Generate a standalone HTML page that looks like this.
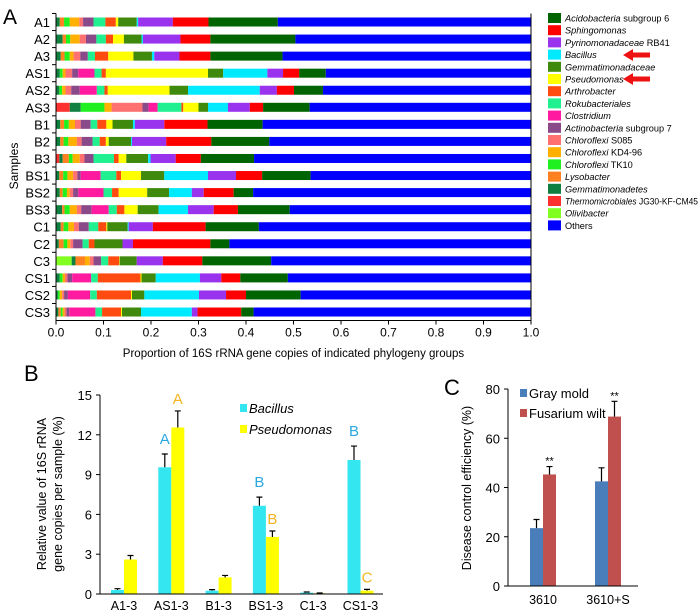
<!DOCTYPE html>
<html><head><meta charset="utf-8"><style>
html,body{margin:0;padding:0;background:#fff;}
svg{display:block;font-family:"Liberation Sans",Arial,sans-serif;}
</style></head><body>
<svg id="fig" width="700" height="614" viewBox="0 0 700 614" xmlns="http://www.w3.org/2000/svg">
<text x="3" y="24" font-size="21">A</text>
<g id="pa"></g>
<g id="pb"></g>
<g id="pc"></g>
</svg>
<script>
// ---------- Panel A data ----------
const samples = ["A1","A2","A3","AS1","AS2","AS3","B1","B2","B3","BS1","BS2","BS3","C1","C2","C3","CS1","CS2","CS3"];
const taxa = ["Olivibacter","Thermomicrobiales JG30-KF-CM45","Gemmatimonadetes","Lysobacter","Chloroflexi TK10","Chloroflexi KD4-96","Chloroflexi S085","Actinobacteria subgroup 7","Clostridium","Rokubacteriales","Arthrobacter","Pseudomonas","Gemmatimonadaceae","Bacillus","Pyrinomonadaceae RB41","Sphingomonas","Acidobacteria subgroup 6"];
const taxaColors = ["#80ff20","#ff3030","#108040","#ff8020","#20f020","#ffb000","#ff7070","#8a4a8a","#ff1aa0","#20f090","#ff4a10","#ffff00","#3f8a0c","#00eaff","#9933ee","#ff0000","#006400"];
const A1=[0,0,.008,.009,.012,.02,.008,.022,0,.025,.022,.005,.039,.003,.073,.075,.146];
const A2=[0,0,.014,.007,.009,.02,.013,.022,0,.02,.015,.023,.037,.003,.079,.063,.179];
const A3=[0,0,.01,.008,.011,.008,.014,.016,0,.015,.028,.053,.039,.005,.053,.065,.152];
const AS1=[0,0,.008,0,.006,.006,.014,.013,.034,.015,.009,.215,.032,.093,.033,.034,.056];
const AS2=[0,0,.007,0,.006,.007,.012,.018,.036,.016,.007,.13,.039,.151,.036,.036,.061];
const AS3=[0,.029,.023,0,.05,.015,.065,.013,.019,.05,.004,.032,.02,.042,.046,.028,.098];
const B1=[0,0,.009,.008,.01,.013,.012,.021,0,.014,.019,.013,.043,.004,.062,.091,.116];
const B2=[0,0,.009,.007,.01,.018,.01,.023,0,.015,.013,.006,.047,.002,.072,.095,.122];
const B3=[0,.007,.007,.013,.008,.015,.01,.019,0,.043,.01,.016,.046,.005,.053,.053,.112];
const BS1=[0,0,.007,.008,.009,.012,.009,.007,.042,.033,.01,.042,.049,.092,.059,.055,.102];
const BS2=[0,0,.008,.006,.009,.006,.007,.011,.053,.018,.014,.06,.046,.048,.025,.063,.041];
const BS3=[0,0,.013,.005,.011,.015,.009,.022,.036,.017,.016,.028,.044,.062,.054,.051,.109];
const C1=[0,0,.01,.006,.01,.012,.01,.021,0,.02,.017,.002,.043,.002,.051,.111,.112];
const C2=[0,0,.006,.01,.008,.006,.006,.02,0,.013,.012,0,.059,0,.022,.163,.04];
const C3=[.033,0,.008,.02,0,.01,.008,.016,0,.015,.023,.001,.036,0,.055,.083,.145];
const CS1=[0,0,.008,0,.006,.005,.005,.01,.04,.014,.09,.002,.03,.093,.045,.04,.1];
const CS2=[0,0,.004,0,.004,.005,.004,.008,.047,.014,.072,.002,.026,.115,.057,.042,.115];
const CS3=[0,0,.005,.005,.004,.004,.004,.006,.055,.014,.04,.002,.04,.107,.012,.092,.026];
const rowsA=[A1,A2,A3,AS1,AS2,AS3,B1,B2,B3,BS1,BS2,BS3,C1,C2,C3,CS1,CS2,CS3];
const ticksA=["0.0","0.1","0.2","0.3","0.4","0.5","0.6","0.7","0.8","0.9","1.0"];
const legendTaxa=["Acidobacteria subgroup 6","Sphingomonas","Pyrinomonadaceae RB41","Bacillus","Gemmatimonadaceae","Pseudomonas","Arthrobacter","Rokubacteriales","Clostridium","Actinobacteria subgroup 7","Chloroflexi S085","Chloroflexi KD4-96","Chloroflexi TK10","Lysobacter","Gemmatimonadetes","Thermomicrobiales JG30-KF-CM45","Olivibacter","Others"];
const legendItalic=[["Acidobacteria"," subgroup 6"],["Sphingomonas",""],["Pyrinomonadaceae"," RB41"],["Bacillus",""],["Gemmatimonadaceae",""],["Pseudomonas",""],["Arthrobacter",""],["Rokubacteriales",""],["Clostridium",""],["Actinobacteria"," subgroup 7"],["Chloroflexi"," S085"],["Chloroflexi"," KD4-96"],["Chloroflexi"," TK10"],["Lysobacter",""],["Gemmatimonadetes",""],["Thermomicrobiales"," JG30-KF-CM45"],["Olivibacter",""],["","Others"]];

// ---------- Panel B data ----------
const catsB=["A1-3","AS1-3","B1-3","BS1-3","C1-3","CS1-3"];
const bacillus=[0.3,9.55,0.25,6.65,0.1,10.1];
const bacErr=[0.1,1.0,0.08,0.65,0.05,1.05];
const pseudo=[2.6,12.55,1.25,4.3,0.05,0.25];
const pseErr=[0.3,1.25,0.15,0.45,0.03,0.1];
const bacLetters=["","A","","B","","B"];
const pseLetters=["","A","","B","","C"];
const ticksB=[0,3,6,9,12,15];

// ---------- Panel C data ----------
const catsC=["3610","3610+S"];
const grayMold=[23.5,42.5];
const grayErr=[3.5,5.5];
const fusarium=[45.3,68.8];
const fusErr=[3.2,6.2];
const ticksC=[0,20,40,60,80];

const NS="http://www.w3.org/2000/svg";
function mk(parent,tag,attrs,text){const e=document.createElementNS(NS,tag);for(const k in attrs)e.setAttribute(k,attrs[k]);if(text!==undefined)e.textContent=text;parent.appendChild(e);return e;}

// ---- Panel A ----
(function(){
const g=document.getElementById('pa');
const x0=56,x1=531,yTop=22,step=17.06,bh=9;
const xs=v=>x0+v*(x1-x0);
const ys=i=>yTop+i*step;
rowsA.forEach((row,i)=>{
  let cum=0;
  row.forEach((v,j)=>{
    if(v>0){
      const r=mk(g,'rect',{x:xs(cum),y:ys(i)-bh/2,width:xs(cum+v)-xs(cum),height:bh,fill:taxaColors[j]});
      
      
    }
    cum+=v;
  });
  const o=mk(g,'rect',{x:xs(cum),y:ys(i)-bh/2,width:xs(1)-xs(cum),height:bh,fill:'#0000ff'});
  
  
  const t=mk(g,'text',{x:50,y:ys(i)+5,'font-size':13,'text-anchor':'end'},samples[i]);
  
  
  const tk=mk(g,'line',{x1:x0-4,x2:x0,y1:ys(i)-step/2,y2:ys(i)-step/2,stroke:'#000'});
  
  
});
const ax=mk(g,'line',{x1:x0,x2:x0,y1:ys(0)-step/2,y2:ys(17)+step/2,stroke:'#000','stroke-width':1});


const yb=ys(17)+step/2;
const xa=mk(g,'line',{x1:x0,x2:x1,y1:yb,y2:yb,stroke:'#000'});


const ra=mk(g,'line',{x1:x1,x2:x1,y1:ys(0)-step/2,y2:yb,stroke:'#000'});


ticksA.forEach((lab,k)=>{
  const v=k/10;
  const l=mk(g,'line',{x1:xs(v),x2:xs(v),y1:yb,y2:yb+4,stroke:'#000'});
  
  
  const t=mk(g,'text',{x:xs(v),y:yb+16,'font-size':12,'text-anchor':'middle'},lab);
  
  
});
const xt=mk(g,'text',{x:xs(0.5),y:357,'font-size':11.5,'text-anchor':'middle'},'Proportion of 16S rRNA gene copies of indicated phylogeny groups');


const yt=mk(g,'text',{x:0,y:0,'font-size':12,'text-anchor':'middle',transform:'translate(18,166) rotate(-90)'},'Samples');


legendTaxa.forEach((name,k)=>{
  const y=18+k*12.2;
  const col=k<17?taxaColors[16-k]:'#0000ff';
  const r=mk(g,'rect',{x:548,y:y-5,width:13,height:10,fill:col});
  
  
  const t=mk(g,'text',{x:565,y:y+3.5,'font-size':9.2});
  
  
  const p=legendItalic[k];
  if(p[0]) mk(t,'tspan',{'font-style':'italic'},p[0]);
  if(p[1]) mk(t,'tspan',{},p[1]);
  if(k===15){t.setAttribute('textLength','133');t.setAttribute('lengthAdjust','spacingAndGlyphs');}
});
[55,79].forEach(y=>{
  const a=mk(g,'path',{d:`M623 ${y} L633 ${y-6} L633 ${y-2.5} L650 ${y-2.5} L650 ${y+2.5} L633 ${y+2.5} L633 ${y+6} Z`,fill:'#ee1111'});
  
  
});
})();

// ---- Panel B ----
(function(){
const g=document.getElementById('pb');
const x0=100,xEnd=383,y0=594,y15=395;
const ys=v=>y0-(v/15)*(y0-y15);
const cx=i=>124+i*47.3;
const bw=13;
mk(g,'text',{x:24,y:381,'font-size':22,},'B');
ticksB.forEach(v=>{
  const l=mk(g,'line',{x1:x0-4,x2:x0,y1:ys(v),y2:ys(v),stroke:'#000'});
  
  
  const t=mk(g,'text',{x:x0-8,y:ys(v)+5,'font-size':13,'text-anchor':'end'},String(v));
  
  
});
catsB.forEach((c,i)=>{
  const t=mk(g,'text',{x:cx(i),y:610,'font-size':12.5,'text-anchor':'middle'},c);
  
  
  const bx=cx(i)-bw;
  const b1=mk(g,'rect',{x:bx,y:ys(bacillus[i]),width:bw,height:y0-ys(bacillus[i]),fill:'#33e6f0'});
  
  
  const b2=mk(g,'rect',{x:cx(i),y:ys(pseudo[i]),width:bw,height:y0-ys(pseudo[i]),fill:'#ffff00'});
  
  
  [[bx+bw/2,bacillus[i],bacErr[i]],[cx(i)+bw/2,pseudo[i],pseErr[i]]].forEach(([x,v,e])=>{
    const p=mk(g,'path',{d:`M${x} ${ys(v)} V${ys(v+e)} M${x-3} ${ys(v+e)} H${x+3}`,stroke:'#000','stroke-width':1.2,fill:'none'});
    
    
  });
  if(bacLetters[i]){
    const t2=mk(g,'text',{x:bx+bw/2,y:ys(bacillus[i]+bacErr[i])-10,'font-size':15,'text-anchor':'middle',fill:'#29a8e0'},bacLetters[i]);
    
    
  }
  if(pseLetters[i]){
    const t3=mk(g,'text',{x:cx(i)+bw/2,y:ys(pseudo[i]+pseErr[i])-7,'font-size':15,'text-anchor':'middle',fill:'#f5b41e'},pseLetters[i]);
    
    
  }
});
const ay=mk(g,'line',{x1:x0,x2:x0,y1:y15,y2:y0,stroke:'#000'});


const axx=mk(g,'line',{x1:x0,x2:xEnd,y1:y0,y2:y0,stroke:'#000'});


const yl=mk(g,'text',{x:0,y:0,'font-size':12.5,'text-anchor':'middle',transform:'translate(46,494) rotate(-90)'},'Relative value of 16S rRNA');


const yl2=mk(g,'text',{x:0,y:0,'font-size':12.5,'text-anchor':'middle',transform:'translate(62,494) rotate(-90)'},'gene copies per sample (%)');


[['#33e6f0','Bacillus',408],['#ffff00','Pseudomonas',429]].forEach(([c,n,y])=>{
  const r=mk(g,'rect',{x:240,y:y-4,width:7,height:8,fill:c});
  
  
  const t=mk(g,'text',{x:249,y:y+5,'font-size':13,'font-style':'italic'},n);
  
  
});
})();

// ---- Panel C ----
(function(){
const g=document.getElementById('pc');
const x0=508,xEnd=638,y0=586,y80=389;
const ys=v=>y0-(v/80)*(y0-y80);
const cx=i=>543+i*65;
const bw=13;
mk(g,'text',{x:444,y:395,'font-size':22,},'C');
ticksC.forEach(v=>{
  const l=mk(g,'line',{x1:x0-4,x2:x0,y1:ys(v),y2:ys(v),stroke:'#000'});
  
  
  const t=mk(g,'text',{x:x0-8,y:ys(v)+5,'font-size':13,'text-anchor':'end'},String(v));
  
  
});
catsC.forEach((c,i)=>{
  const t=mk(g,'text',{x:cx(i),y:604,'font-size':12.5,'text-anchor':'middle'},c);
  
  
  const b1=mk(g,'rect',{x:cx(i)-bw,y:ys(grayMold[i]),width:bw,height:y0-ys(grayMold[i]),fill:'#4a7ebb'});
  
  
  const b2=mk(g,'rect',{x:cx(i),y:ys(fusarium[i]),width:bw,height:y0-ys(fusarium[i]),fill:'#c0504d'});
  
  
  [[cx(i)-bw/2,grayMold[i],grayErr[i]],[cx(i)+bw/2,fusarium[i],fusErr[i]]].forEach(([x,v,e])=>{
    const p=mk(g,'path',{d:`M${x} ${ys(v)} V${ys(v+e)} M${x-3} ${ys(v+e)} H${x+3}`,stroke:'#000','stroke-width':1.2,fill:'none'});
    
    
  });
  const s=mk(g,'text',{x:cx(i)+bw/2,y:ys(fusarium[i]+fusErr[i])-2,'font-size':11,'text-anchor':'middle'},'**');
  
  
});
const ay=mk(g,'line',{x1:x0,x2:x0,y1:y80,y2:y0,stroke:'#000'});


const axx=mk(g,'line',{x1:x0,x2:xEnd,y1:y0,y2:y0,stroke:'#000'});


const yl=mk(g,'text',{x:0,y:0,'font-size':12.5,'text-anchor':'middle',transform:'translate(471,488) rotate(-90)'},'Disease control efficiency (%)');


[['#4a7ebb','Gray mold',393],['#c0504d','Fusarium wilt',413]].forEach(([c,n,y])=>{
  const r=mk(g,'rect',{x:520,y:y-4,width:7,height:8,fill:c});
  
  
  const t=mk(g,'text',{x:529,y:y+5,'font-size':13},n);
  
  
});
})();
</script>
</body></html>
